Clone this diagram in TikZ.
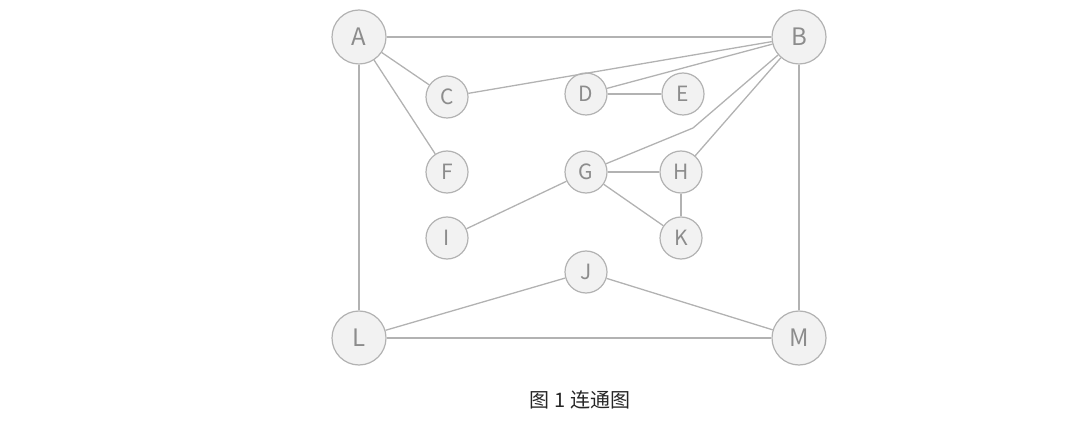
\documentclass[tikz,border=0pt]{standalone}
\usepackage{fontspec}
\setmainfont{Noto Sans CJK SC}
\begin{document}
\begin{tikzpicture}[x=1pt,y=-1pt,
  big/.style={circle,draw=black!30,fill=black!5,line width=1.2pt,minimum size=54pt,inner sep=0pt,text=black!45,font=\fontsize{24}{24}\selectfont},
  sm/.style={circle,draw=black!30,fill=black!5,line width=1.2pt,minimum size=42pt,inner sep=0pt,text=black!45,font=\fontsize{21}{21}\selectfont},
  ed/.style={draw=black!30,line width=1.3pt}]
\useasboundingbox (0,0) rectangle (1086,438);
\node[big] (A) at (359,37) {A};
\node[big] (B) at (799,37) {B};
\node[big] (L) at (359,338) {L};
\node[big] (M) at (799,338) {M};
\node[sm] (C) at (447,97) {C};
\node[sm] (D) at (586,94) {D};
\node[sm] (E) at (683,94) {E};
\node[sm] (F) at (447,172) {F};
\node[sm] (G) at (586,172) {G};
\node[sm] (H) at (681,172) {H};
\node[sm] (I) at (447,238) {I};
\node[sm] (K) at (681,238) {K};
\node[sm] (J) at (586,272) {J};
\coordinate (bend) at (693,128);
\begin{scope}[on background layer/.style={}]
\end{scope}
\draw[ed] (A) -- (B);
\draw[ed] (A) -- (C);
\draw[ed] (A) -- (F);
\draw[ed] (A) -- (L);
\draw[ed] (B) -- (C);
\draw[ed] (B) -- (D);
\draw[ed] (B) -- (M);
\draw[ed] (G) -- (bend) -- (B);
\draw[ed] (B) -- (H);
\draw[ed] (D) -- (E);
\draw[ed] (G) -- (H);
\draw[ed] (G) -- (K);
\draw[ed] (H) -- (K);
\draw[ed] (G) -- (I);
\draw[ed] (J) -- (L);
\draw[ed] (J) -- (M);
\draw[ed] (L) -- (M);
\node[font=\fontsize{20}{20}\selectfont,text=black!85] (cap) at (580,400) {图 1 连通图};
\end{tikzpicture}
\end{document}
